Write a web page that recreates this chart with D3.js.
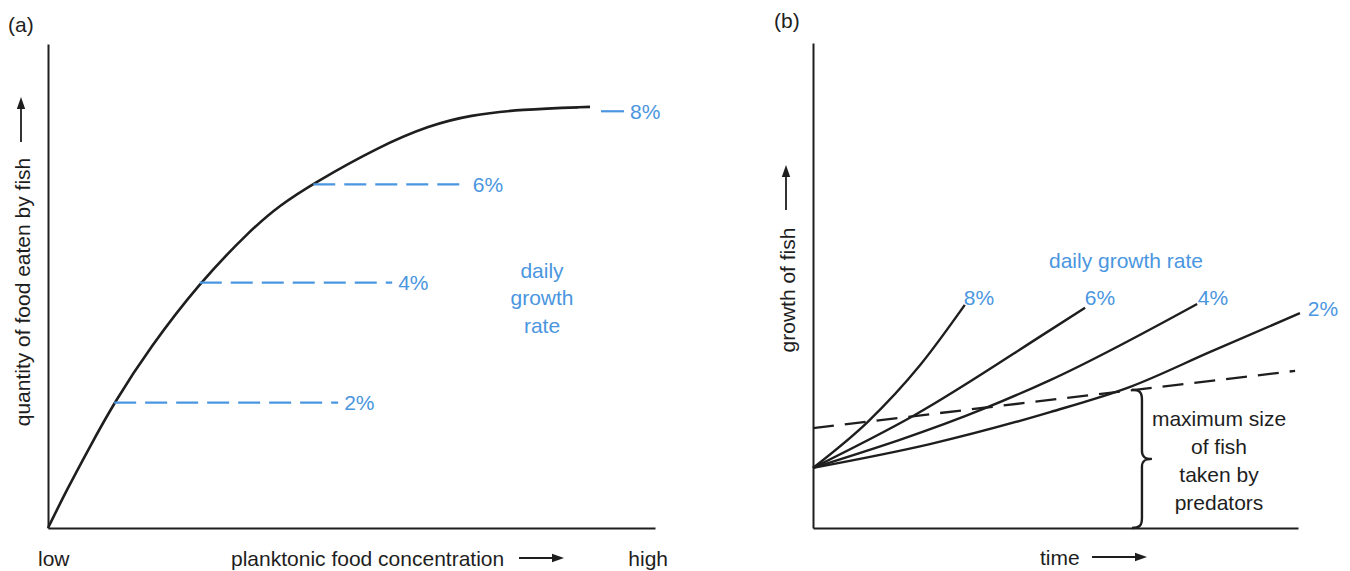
<!DOCTYPE html>
<html>
<head>
<meta charset="utf-8">
<script src="https://cdn.jsdelivr.net/npm/d3@7"></script>
<style>
  html, body { margin: 0; padding: 0; background: #fff; }
  svg { display: block; }
  text { font-family: "Liberation Sans", Arial, sans-serif; }
</style>
</head>
<body>
<svg id="chart" width="1350" height="571"></svg>
<script>
// ---------- Panel (a) data ----------
const foodConc  = [0, 3.1, 6.9, 10.9, 16.8, 25.0, 33.3, 38.2, 43.7, 54.7, 62.9, 69.5, 77.8, 89.3];
const foodEaten = [0, 7.9, 16.8, 25.9, 37.3, 50.7, 61.5, 66.7, 71.2, 78.9, 83.2, 85.3, 86.5, 87.0];
const rateLabelsA = ["2%", "4%", "6%", "8%"];
const rateLevelsA = [25.9, 50.7, 71.0, 86.1];
const rateStartA  = [10.9, 25.0, 43.7, 91.1];
const rateEndA    = [47.8, 56.7, 69.0, 94.9];
const xLabelsA = ["low", "planktonic food concentration", "high"];
const yLabelA = "quantity of food eaten by fish";
const legendA = ["daily", "growth", "rate"];

// ---------- Panel (b) data ----------
const seriesB = ["8%", "6%", "4%", "2%"];
const timeB = [
  [0, 11.3, 22.1, 31.3],
  [0, 21.0, 48.9, 56.1],
  [0, 35.5, 48.9, 79.2],
  [0, 24.1, 48.9, 65.4, 81.9, 100.4]
];
const growthB = [
  [12.4, 21.9, 33.6, 46.0],
  [12.4, 23.3, 40.8, 45.4],
  [12.4, 24.7, 30.5, 46.2],
  [12.4, 17.3, 23.9, 29.1, 36.3, 44.3]
];
const predatorTime = [0, 99.4];
const predatorSize = [20.6, 32.4];
const braceTime = 67.0;
const braceTop = 28.5;
const yLabelB = "growth of fish";
const xLabelB = "time";
const legendB = "daily growth rate";
const noteB = ["maximum size", "of fish", "taken by", "predators"];

const BLUE = "#4a96e0";
const INK = "#1e1e1e";
const FS = 21;

const svg = d3.select("#chart");

function arrow(g, x1, y1, x2, y2) {
  const ang = Math.atan2(y2 - y1, x2 - x1);
  const L = 12, W = 4.2;
  const bx = x2 - L * Math.cos(ang), by = y2 - L * Math.sin(ang);
  g.append("line").attr("x1", x1).attr("y1", y1).attr("x2", bx).attr("y2", by)
    .attr("stroke", INK).attr("stroke-width", 1.8);
  g.append("path")
    .attr("d", `M${x2},${y2} L${bx - W * Math.sin(ang)},${by + W * Math.cos(ang)} L${bx + W * Math.sin(ang)},${by - W * Math.cos(ang)} Z`)
    .attr("fill", INK);
}

// ================= Panel (a) =================
{
  const x = d3.scaleLinear().domain([0, 100]).range([48, 655]);
  const y = d3.scaleLinear().domain([0, 100]).range([528, 44]);
  const g = svg.append("g");

  g.append("text").attr("x", 8).attr("y", 32).attr("font-size", FS).attr("fill", INK).text("(a)");

  g.append("g").attr("transform", `translate(0,${y(0)})`)
    .call(d3.axisBottom(x).tickValues([]).tickSizeOuter(0))
    .call(a => a.select(".domain").attr("stroke", INK).attr("stroke-width", 2));
  g.append("g").attr("transform", `translate(${x(0)},0)`)
    .call(d3.axisLeft(y).tickValues([]).tickSizeOuter(0))
    .call(a => a.select(".domain").attr("stroke", INK).attr("stroke-width", 2));

  const pts = foodConc.map((v, i) => [v, foodEaten[i]]);
  g.append("path").datum(pts)
    .attr("d", d3.line().x(d => x(d[0])).y(d => y(d[1])).curve(d3.curveBasis))
    .attr("fill", "none").attr("stroke", INK).attr("stroke-width", 2.6);

  rateLabelsA.forEach((lab, i) => {
    g.append("line")
      .attr("x1", x(rateStartA[i])).attr("x2", x(rateEndA[i]))
      .attr("y1", y(rateLevelsA[i])).attr("y2", y(rateLevelsA[i]))
      .attr("stroke", BLUE).attr("stroke-width", 2.2)
      .attr("stroke-dasharray", i === 3 ? null : "22,9");
    g.append("text")
      .attr("x", x(rateEndA[i]) + 6).attr("y", y(rateLevelsA[i]))
      .attr("dy", "0.36em").attr("font-size", FS).attr("fill", BLUE).text(lab);
  });

  legendA.forEach((t, i) => {
    g.append("text").attr("x", 542).attr("y", 270 + i * 27.5).attr("dy", "0.36em")
      .attr("text-anchor", "middle").attr("font-size", FS).attr("fill", BLUE).text(t);
  });

  g.append("text").attr("x", 38).attr("y", 558).attr("dy", "0.36em")
    .attr("font-size", FS).attr("fill", INK).text(xLabelsA[0]);
  g.append("text").attr("x", 231).attr("y", 558).attr("dy", "0.36em")
    .attr("font-size", FS).attr("fill", INK).text(xLabelsA[1]);
  g.append("text").attr("x", 668).attr("y", 558).attr("dy", "0.36em")
    .attr("text-anchor", "end").attr("font-size", FS).attr("fill", INK).text(xLabelsA[2]);
  arrow(g, 519, 558, 564, 558);

  g.append("text").attr("transform", "translate(30,292) rotate(-90)")
    .attr("text-anchor", "middle").attr("font-size", FS).attr("fill", INK).text(yLabelA);
  arrow(g, 21, 142, 21, 97);
}

// ================= Panel (b) =================
{
  const x = d3.scaleLinear().domain([0, 100]).range([813, 1298]);
  const y = d3.scaleLinear().domain([0, 100]).range([528, 43]);
  const g = svg.append("g");

  g.append("text").attr("x", 774).attr("y", 28).attr("font-size", FS).attr("fill", INK).text("(b)");

  g.append("g").attr("transform", `translate(0,${y(0)})`)
    .call(d3.axisBottom(x).tickValues([]).tickSizeOuter(0))
    .call(a => a.select(".domain").attr("stroke", INK).attr("stroke-width", 2));
  g.append("g").attr("transform", `translate(${x(0)},0)`)
    .call(d3.axisLeft(y).tickValues([]).tickSizeOuter(0))
    .call(a => a.select(".domain").attr("stroke", INK).attr("stroke-width", 2));

  const line = d3.line().x(d => x(d[0])).y(d => y(d[1])).curve(d3.curveMonotoneX);

  // predator size dashed line
  g.append("path").datum(predatorTime.map((t, i) => [t, predatorSize[i]]))
    .attr("d", line).attr("fill", "none").attr("stroke", INK)
    .attr("stroke-width", 2.3).attr("stroke-dasharray", "21,11");

  seriesB.forEach((lab, i) => {
    const pts = timeB[i].map((t, j) => [t, growthB[i][j]]);
    g.append("path").datum(pts).attr("d", line)
      .attr("fill", "none").attr("stroke", INK).attr("stroke-width", 2.4);
  });

  const labPos = [[979, 297], [1100, 297], [1213, 297], [1323, 308]];
  seriesB.forEach((lab, i) => {
    g.append("text").attr("x", labPos[i][0]).attr("y", labPos[i][1]).attr("dy", "0.36em")
      .attr("text-anchor", "middle").attr("font-size", FS).attr("fill", BLUE).text(lab);
  });

  g.append("text").attr("x", 1126).attr("y", 260).attr("dy", "0.36em")
    .attr("text-anchor", "middle").attr("font-size", FS).attr("fill", BLUE).text(legendB);

  // curly brace
  const bx = x(braceTime) + 4, top = y(braceTop), bot = y(0), mid = (top + bot) / 2;
  const bd = `M${bx - 10},${top} C${bx - 2},${top} ${bx},${top + 3} ${bx},${top + 10}
              L${bx},${mid - 8} C${bx},${mid - 2} ${bx + 3},${mid} ${bx + 10},${mid}
              C${bx + 3},${mid} ${bx},${mid + 2} ${bx},${mid + 8}
              L${bx},${bot - 10} C${bx},${bot - 3} ${bx - 2},${bot} ${bx - 10},${bot}`;
  g.append("path").attr("d", bd).attr("fill", "none").attr("stroke", INK).attr("stroke-width", 2.4);

  noteB.forEach((t, i) => {
    g.append("text").attr("x", 1219).attr("y", 418 + i * 28.2).attr("dy", "0.36em")
      .attr("text-anchor", "middle").attr("font-size", FS).attr("fill", INK).text(t);
  });

  g.append("text").attr("x", 1040).attr("y", 557).attr("dy", "0.36em")
    .attr("font-size", FS).attr("fill", INK).text(xLabelB);
  arrow(g, 1092, 557, 1147, 557);

  g.append("text").attr("transform", "translate(795,290) rotate(-90)")
    .attr("text-anchor", "middle").attr("font-size", FS).attr("fill", INK).text(yLabelB);
  arrow(g, 786, 210, 786, 165);
}
</script>
</body>
</html>
